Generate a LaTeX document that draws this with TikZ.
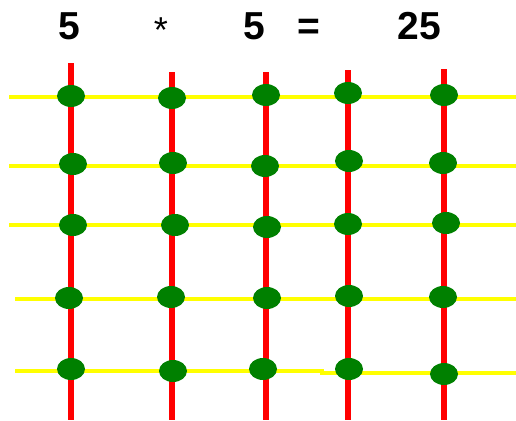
\documentclass[tikz,border=0pt]{standalone}
\usepackage{fontspec}
\setmainfont{Liberation Sans}
\usetikzlibrary{shapes.geometric}
\definecolor{gline}{RGB}{255,255,0}
\definecolor{rline}{RGB}{255,0,0}
\definecolor{dotgreen}{RGB}{0,128,0}
\begin{document}
\begin{tikzpicture}[x=1pt,y=-1pt,
  hline/.style={gline,line width=4pt},
  vline/.style={rline,line width=6pt},
  dot/.style={ellipse,fill=dotgreen,draw=none,minimum width=28pt,minimum height=22pt,inner sep=0pt},
  num/.style={anchor=base,inner sep=0pt,font=\fontsize{39}{39}\selectfont\bfseries}]
\useasboundingbox (0,0) rectangle (516,420);
% labels
\node[num] (t1) at (69,40) {5};
\node[num,font=\fontsize{36}{36}\selectfont] (t2) at (161,43) {*};
\node[num] (t3) at (254,40) {5};
\node[num] (t4) at (309,40) {=};
\node[num] (t5) at (419,40) {25};
% yellow horizontal lines
\draw[hline] (9,97) -- (516,97);
\draw[hline] (9,166) -- (516,166);
\draw[hline] (9,225) -- (516,225);
\draw[hline] (15,299) -- (516,299);
\draw[hline] (15,371) -- (322,371) -- (322,373) -- (516,373);
% red vertical lines
\draw[vline] (71,63) -- (71,420);
\draw[vline] (172,72) -- (172,420);
\draw[vline] (266,72) -- (266,420);
\draw[vline] (348,70) -- (348,420);
\draw[vline] (444,69) -- (444,420);
% dots
\node[dot] (d11) at (71,96) {};
\node[dot] (d12) at (172,98) {};
\node[dot] (d13) at (266,95) {};
\node[dot] (d14) at (348,93) {};
\node[dot] (d15) at (444,95) {};
\node[dot] (d21) at (73,164) {};
\node[dot] (d22) at (173,163) {};
\node[dot] (d23) at (265,166) {};
\node[dot] (d24) at (349,161) {};
\node[dot] (d25) at (443,163) {};
\node[dot] (d31) at (73,225) {};
\node[dot] (d32) at (175,225) {};
\node[dot] (d33) at (267,227) {};
\node[dot] (d34) at (348,224) {};
\node[dot] (d35) at (446,223) {};
\node[dot] (d41) at (69,298) {};
\node[dot] (d42) at (171,297) {};
\node[dot] (d43) at (267,298) {};
\node[dot] (d44) at (349,296) {};
\node[dot] (d45) at (443,297) {};
\node[dot] (d51) at (71,369) {};
\node[dot] (d52) at (173,371) {};
\node[dot] (d53) at (263,369) {};
\node[dot] (d54) at (349,369) {};
\node[dot] (d55) at (444,374) {};
\end{tikzpicture}
\end{document}
